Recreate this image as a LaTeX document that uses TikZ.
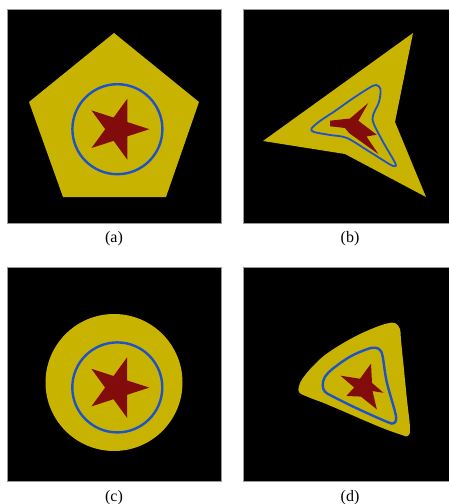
\documentclass[tikz,border=0pt]{standalone}
\usepackage{fontspec}
\setmainfont{Liberation Serif}
\usetikzlibrary{positioning}

\definecolor{shieldyellow}{RGB}{200,180,0}
\definecolor{starred}{RGB}{130,12,12}
\definecolor{ringblue}{RGB}{30,82,200}

\begin{document}
\begin{tikzpicture}[x=1pt, y=-1pt,
    panel/.style={draw=black!40, line width=0.5pt, fill=black, minimum size=214pt, inner sep=0pt},
    shield/.style={fill=shieldyellow},
    ring/.style={draw=ringblue, line width=2.4pt},
    starfill/.style={fill=starred},
    caption/.style={font=\fontsize{16}{18}\selectfont, inner sep=0pt}
  ]
    \useasboundingbox (0,0) rectangle (449,504);
    \node[panel] (pa) at (114,116) {};
    \node[panel] (pb) at (350,116) {};
    \node[panel] (pc) at (114,374) {};
    \node[panel] (pd) at (350,374) {};
    \node[caption, below=8pt of pa] (capa) {(a)};
    \node[caption, below=8pt of pb] (capb) {(b)};
    \node[caption, below=9pt of pc] (capc) {(c)};
    \node[caption, below=9pt of pd] (capd) {(d)};
    % (a) pentagon
    \fill[shield] (114,33) -- (199,102) -- (166,197) -- (63,197) -- (29,102) -- cycle;
    \draw[ring] (117.4,129.2) circle[radius=45pt];
    \fill[starfill, shift={(117.4,129.2)}] (0:32) -- (-36:12.2) -- (-72:32) -- (-108:12.2) -- (-144:32)
      -- (-180:12.2) -- (-216:32) -- (-252:12.2) -- (-288:32) -- (-324:12.2) -- cycle;
    % (b) warped
    \fill[shield] (413,33) -- (395,122) -- (426,197) -- (345,154) -- (263,141) -- cycle;
    \draw[ring, line width=1.8pt] plot[smooth cycle, tension=0.5] coordinates {(376,85) (380.5,89)
      (379,102) (372.5,119) (382,140) (393,159) (396,165.5) (391,165) (370,152) (347,138) (330,135)
      (314,132) (311.5,128.5) (320,121) (335,111) (352,99) (369,88)};
    \fill[starfill] (330,120.7) -- (350,118.5) -- (368.3,103) -- (358.3,120.7) -- (376.7,134.7)
      -- (366.5,136.5) -- (378.3,154) -- (349,133) -- (345,128) -- (330,126.3) -- cycle;
    % (c) disk
    \fill[shield] (114,382.5) circle[radius=68.5pt];
    \draw[ring] (117.3,387.4) circle[radius=45pt];
    \fill[starfill, shift={(117.3,387.6)}] (0:32) -- (-36:12.2) -- (-72:32) -- (-108:12.2) -- (-144:32)
      -- (-180:12.2) -- (-216:32) -- (-252:12.2) -- (-288:32) -- (-324:12.2) -- cycle;
    % (d) rounded triangle
    \fill[shield] plot[smooth cycle, tension=0.6] coordinates {(299,392) (300,383) (306,374) (315,364)
      (325,355) (340,345) (358,335) (375,327.5) (387,323.5) (395,323) (400,329) (401,340) (404,370)
      (407,400) (410,428) (408,436) (402,435) (385,429) (368,422) (345,412) (325,403.5) (308,397)};
    \draw[ring] plot[smooth cycle, tension=0.6] coordinates {(322.7,385) (325,376.7) (333.3,368.3)
      (350,356.7) (366.7,349.3) (375,347.7) (380,350) (382.7,356.7) (386.7,381.7) (395,411.7)
      (396,420) (393.3,423.3) (386.7,421.7) (356.7,408.3) (333.3,396.7) (325,391.7)};
    \fill[starfill, shift={(363.7,387.5)}] (15:20.5) -- (-29:9.5) -- (-73:25) -- (-113:9.5) -- (-153:26)
      -- (-180:9.5) -- (-206:19.3) -- (-253:9.5) -- (-301:25.5) -- (-338:9.5) -- cycle;
  \end{tikzpicture}
\end{document}
